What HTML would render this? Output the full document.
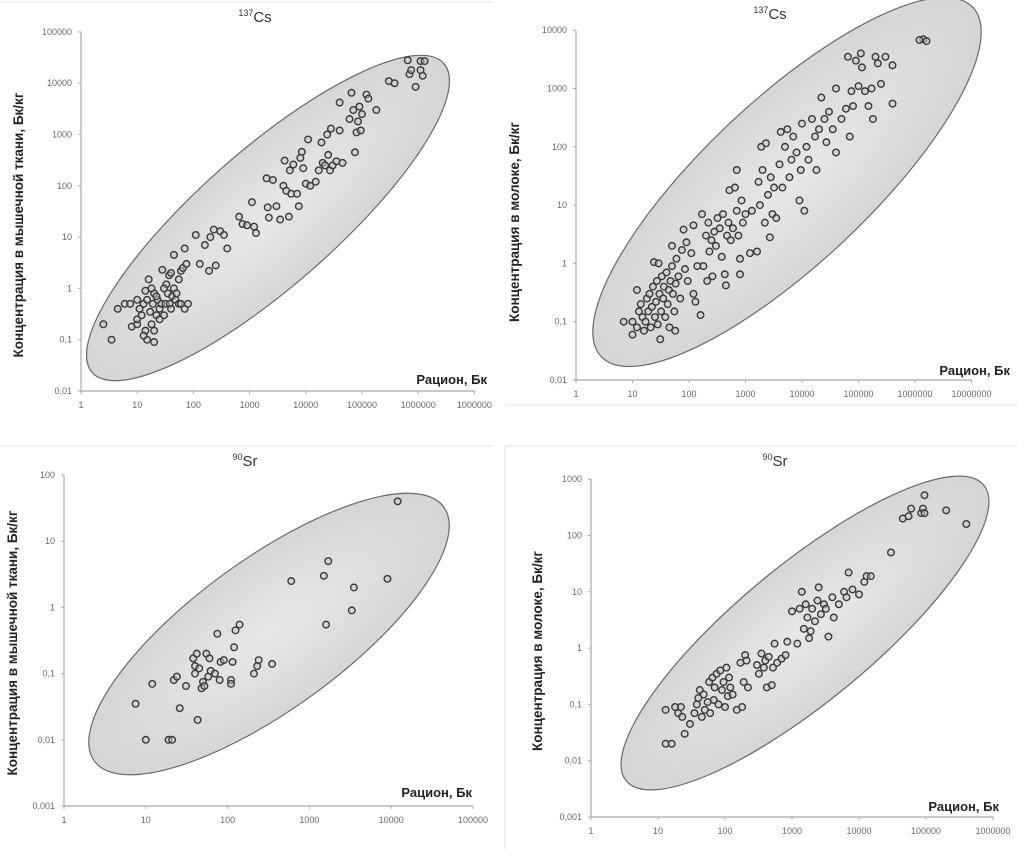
<!DOCTYPE html>
<html><head><meta charset="utf-8"><style>
html,body{margin:0;padding:0;background:#fff;}
svg{display:block;font-family:"Liberation Sans",sans-serif;}
.tk{font-size:9px;fill:#666;}
.at{font-size:13.5px;font-weight:bold;fill:#222;}
.xt{font-size:13px;font-weight:bold;fill:#222;}
.tt{font-size:15px;fill:#333;}
</style></head><body>
<svg id="root" width="1017" height="849" viewBox="0 0 1017 849" xmlns="http://www.w3.org/2000/svg">
<defs><radialGradient id="eg" cx="50%" cy="50%" r="60%"><stop offset="0" stop-color="#e8e8e8"/><stop offset="1" stop-color="#d2d2d2"/></radialGradient></defs>
<g stroke="#e2e2e2" stroke-width="1">
<line x1="505" y1="405" x2="1017" y2="405"/><line x1="0" y1="446" x2="493" y2="446"/><line x1="505" y1="446" x2="1017" y2="446"/><line x1="505" y1="446" x2="505" y2="849"/><line x1="0" y1="2" x2="493" y2="2"/>
</g>
</svg>
<script>
// Panel 1: 137Cs muscle
const p1X=[2.5,3.5,4.5,6,7.5,8,10,10,10,11,12,13,14,14,15,15,16,17,18,19,20,20,22,23,25,25,27,28,30,32,33,35,37,38,40,40,42,45,48,50,55,55,60,60,65,70,75,80,45,70,30,20,13,22,18,130,110,160,190,200,230,250,300,350,400,650,750,900,1100,1200,1300,2000,2100,2200,2600,3000,3500,4000,4200,4500,5000,5200,5500,6000,7000,7500,8000,8500,9000,10000,11000,12000,15000,17000,19000,20000,22000,24000,25000,27000,28000,30000,35000,40000,45000,40000,60000,65000,70000,75000,80000,85000,90000,100000,95000,120000,130000,180000,300000,380000,650000,700000,750000,900000,1100000,1200000,1300000,1100000];
const p1Y=[0.2,0.1,0.4,0.5,0.5,0.18,0.6,0.2,0.25,0.4,0.3,0.5,0.9,0.15,0.1,0.6,1.5,0.35,0.2,0.5,0.09,0.8,0.3,0.6,0.25,0.4,0.5,2.3,0.3,0.5,1.2,0.8,1.8,0.5,2,0.4,0.7,1,0.6,0.8,1.5,0.5,2.2,0.5,2.5,0.4,3,0.5,4.5,6,1,0.15,0.12,0.7,1,3,11,7,2.2,10,14,2.8,13,11,6,25,18,17,48,16,12,140,38,24,130,40,22,100,310,80,25,200,70,260,70,40,350,460,220,110,800,100,120,200,700,280,250,1000,400,200,1300,250,300,1200,280,4200,2000,6500,3000,450,1100,1800,3500,2500,1200,6000,5000,3000,11000,10000,28000,15000,18000,8500,27000,14000,27000,18000];
const p1XTicks=["1","10","100","1000","10000","100000","1000000","1000000"];
const p1YTicks=["0,01","0,1","1","10","100","1000","10000","100000"];
// Panel 2: 137Cs milk
const p2X=[7,10,10,12,12,13,14,15,16,17,18,19,20,21,22,23,24,25,26,27,28,29,30,31,32,33,35,36,38,40,42,44,45,47,50,50,52,55,57,58,60,65,70,75,80,85,90,95,110,120,120,130,140,160,170,180,200,210,220,230,250,260,280,300,320,350,380,400,430,450,470,500,520,550,600,650,700,700,750,800,800,850,900,1000,1200,1300,1600,1700,1800,1900,2000,2200,2300,2500,2700,2800,3000,3200,3500,4000,4200,4500,5000,5500,6000,6500,7000,8000,9000,9500,10000,11000,12000,13000,15000,17000,18000,20000,22000,25000,27000,30000,35000,40000,40000,50000,60000,65000,70000,75000,80000,90000,100000,110000,115000,130000,150000,170000,180000,200000,220000,250000,300000,400000,400000,1400000,1600000,1200000];
const p2Y=[0.1,0.06,0.1,0.35,0.08,0.15,0.2,0.12,0.07,0.1,0.25,0.15,0.3,0.08,0.18,0.4,1.05,0.12,0.22,0.5,0.09,1,0.3,0.05,0.15,0.6,0.25,0.4,0.12,0.7,0.2,0.35,0.08,0.5,0.9,2,0.3,0.15,0.07,0.45,1.2,0.6,0.25,1.7,3.8,0.8,2.3,0.5,1.5,4.5,0.3,0.22,0.9,0.13,7,0.9,3,0.5,5,1.6,2.5,0.6,3.5,2,6,4,1.3,7,0.65,0.42,3,5,18,2.5,4,20,8,40,3,1.2,0.65,12,5,7,1.5,8,1.6,25,10,100,40,5,115,15,2.8,30,7,20,6,50,180,20,100,200,30,60,150,80,12,40,250,8,100,60,300,150,40,200,700,300,120,400,200,80,1000,300,450,3500,150,900,500,3000,1100,4000,2300,900,500,1000,300,3500,2700,1200,3500,2500,550,7000,6500,6800];
const p2XTicks=["1","10","100","1000","10000","100000","1000000","10000000"];
const p2YTicks=["0,01","0,1","1","10","100","1000","10000"];
// Panel 3: 90Sr muscle
const p3X=[7.5,10,12,19,21,22,24,26,31,38,40,40,42,43,45,48,50,52,55,58,60,62,70,75,80,82,90,110,110,115,120,125,140,210,230,240,350,600,1500,1700,1600,3300,3500,9000,12000];
const p3Y=[0.035,0.01,0.07,0.01,0.01,0.08,0.09,0.03,0.065,0.17,0.1,0.13,0.2,0.02,0.12,0.06,0.075,0.065,0.2,0.09,0.17,0.11,0.1,0.4,0.08,0.15,0.16,0.08,0.07,0.15,0.25,0.45,0.55,0.1,0.13,0.16,0.14,2.5,3,5,0.55,0.9,2,2.7,40];
const p3XTicks=["1","10","100","1000","10000","100000"];
const p3YTicks=["0,001","0,01","0,1","1","10","100"];
// Panel 4: 90Sr milk
const p4X=[13,13,16,18,20,22,23,25,30,35,38,40,42,45,48,50,55,58,60,65,68,70,75,80,85,90,95,100,105,110,115,120,130,150,170,180,190,200,210,220,300,320,350,380,400,420,450,500,520,550,600,700,800,850,1000,1200,1300,1400,1500,1600,1700,1800,1900,2000,2200,2400,2500,2700,3000,3200,3500,4000,4200,5000,6000,6500,7000,8000,10000,12000,13000,15000,30000,45000,55000,60000,85000,90000,95000,95000,200000,400000];
const p4Y=[0.08,0.02,0.02,0.09,0.07,0.09,0.06,0.03,0.045,0.07,0.1,0.13,0.18,0.06,0.15,0.08,0.11,0.25,0.07,0.3,0.12,0.2,0.35,0.1,0.4,0.18,0.25,0.09,0.45,0.14,0.3,0.2,0.15,0.08,0.55,0.09,0.25,0.75,0.6,0.2,0.5,0.35,0.8,0.45,0.6,0.2,0.7,0.22,0.45,1.2,0.55,0.65,0.75,1.3,4.5,1.2,5,10,2.2,6,3.5,1.5,2,5,3,7,12,4,6,5,1.6,8,3.5,6,10,8,22,11,9,15,19,19,50,200,220,300,250,300,250,520,280,160];
const p4XTicks=["1","10","100","1000","10000","100000","1000000"];
const p4YTicks=["0,001","0,01","0,1","1","10","100","1000"];

const NS="http://www.w3.org/2000/svg";
const root=document.getElementById('root');
function mk(tag,attrs,parent){const e=document.createElementNS(NS,tag);for(const k in attrs)e.setAttribute(k,attrs[k]);parent.appendChild(e);return e;}

function drawPanel(id,cfg,xs,ys,xTicks,yTicks){
  const g=mk('g',{},root);
  
  
  const sx=v=>cfg.x0+Math.log10(v)*cfg.dx;
  const sy=v=>cfg.yb-(Math.log10(v)-cfg.ymin)*cfg.dy;
  const yTop=cfg.yb-(yTicks.length-1)*cfg.dy;
  const xEnd=cfg.x0+(xTicks.length-1)*cfg.dx;
  const el=mk('ellipse',{cx:cfg.e[0],cy:cfg.e[1],rx:cfg.e[2],ry:cfg.e[3],transform:`rotate(${cfg.e[4]} ${cfg.e[0]} ${cfg.e[1]})`,fill:'url(#eg)',stroke:'#6a6a6a','stroke-width':1.2},g);
  
  
  const ya=mk('line',{x1:cfg.x0,y1:yTop,x2:cfg.x0,y2:cfg.yb,stroke:'#aaa','stroke-width':1.2},g);
  
  
  const xa=mk('line',{x1:cfg.x0,y1:cfg.yb,x2:xEnd,y2:cfg.yb,stroke:'#aaa','stroke-width':1.2},g);
  
  
  xTicks.forEach((t,i)=>{
    const x=cfg.x0+i*cfg.dx;
    mk('line',{x1:x,y1:cfg.yb,x2:x,y2:cfg.yb+3,stroke:'#aaa'},g);
    const tx=mk('text',{x:x,y:cfg.yb+17,'text-anchor':'middle',class:'tk'},g);
    tx.textContent=t;
    
    
  });
  yTicks.forEach((t,i)=>{
    const y=cfg.yb-i*cfg.dy;
    mk('line',{x1:cfg.x0-3,y1:y,x2:cfg.x0,y2:y,stroke:'#aaa'},g);
    const tx=mk('text',{x:cfg.x0-9,y:y+3,'text-anchor':'end',class:'tk'},g);
    tx.textContent=t;
    
    
  });
  xs.forEach((v,i)=>{
    const c=mk('circle',{cx:sx(v),cy:sy(ys[i]),r:3.3,fill:'#c8c8c8','fill-opacity':0.5,stroke:'#3a3a3a','stroke-width':1.4},g);
    
    
  });
  const tt=mk('text',{x:cfg.t[0],y:cfg.t[1],'text-anchor':'middle',class:'tt'},g);
  tt.innerHTML=`<tspan font-size="9" dy="-6">${cfg.iso}</tspan><tspan dy="6">${cfg.el}</tspan>`;
  
  
  const yt=mk('text',{x:0,y:0,'text-anchor':'middle',class:'at',transform:`translate(${cfg.yl[0]} ${cfg.yl[1]}) rotate(-90)`},g);
  yt.textContent=cfg.ylab;
  
  
  const xt=mk('text',{x:cfg.xl[0],y:cfg.xl[1],'text-anchor':'end',class:'xt'},g);
  xt.textContent='Рацион, Бк';
  
  
}

drawPanel('chart-cs-muscle',{x0:81,dx:56.2,yb:391,ymin:-2,dy:51.3,e:[268,218,234,68,-41.3],t:[255,22],iso:'137',el:'Cs',yl:[23,225],ylab:'Концентрация в мышечной ткани, Бк/кг',xl:[487,384]},p1X,p1Y,p1XTicks,p1YTicks);
drawPanel('chart-cs-milk',{x0:576,dx:56.5,yb:380,ymin:-2,dy:58.3,e:[787,182,255,82,-43.2],t:[770,19],iso:'137',el:'Cs',yl:[519,222],ylab:'Концентрация в молоке, Бк/кг',xl:[1010,375]},p2X,p2Y,p2XTicks,p2YTicks);
drawPanel('chart-sr-muscle',{x0:64,dx:81.8,yb:806,ymin:-3,dy:66.2,e:[269,634,216,75,-36],t:[245,466],iso:'90',el:'Sr',yl:[17,643],ylab:'Концентрация в мышечной ткани, Бк/кг',xl:[472,797]},p3X,p3Y,p3XTicks,p3YTicks);
drawPanel('chart-sr-milk',{x0:591,dx:67,yb:817,ymin:-3,dy:56.3,e:[805,633,232,68,-39.6],t:[775,466],iso:'90',el:'Sr',yl:[542,651],ylab:'Концентрация в молоке, Бк/кг',xl:[999,811]},p4X,p4Y,p4XTicks,p4YTicks);
</script>
</body></html>
